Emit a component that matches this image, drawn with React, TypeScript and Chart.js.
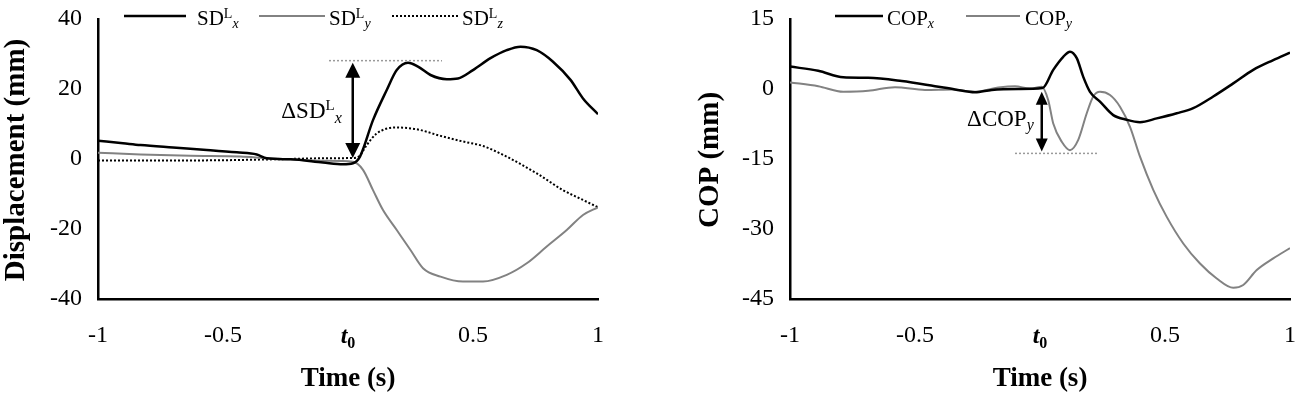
import React, { useEffect, useRef } from 'react';
import { Chart, registerables } from 'chart.js';

Chart.register(...registerables);

const FONT = "'Liberation Serif', 'Times New Roman', Times, serif";

// ---- axes ----
const timeTicks = [-1, -0.5, 0, 0.5, 1];
const timeTickLabels = ['-1', '-0.5', 't0', '0.5', '1'];
const dispTicks = [-40, -20, 0, 20, 40];
const copTicks = [-45, -30, -15, 0, 15];

// ---- left panel: SD^L (mm) ----
const sdxT = [-1, -0.9, -0.83, -0.7, -0.565, -0.445, -0.365, -0.325, -0.23, -0.1, -0.02, 0.02, 0.048, 0.1, 0.155, 0.195, 0.24, 0.28, 0.33, 0.395, 0.44, 0.5, 0.57, 0.635, 0.69, 0.755, 0.82, 0.89, 0.94, 1];
const sdxV = [5.2, 4.5, 4.0, 3.3, 2.6, 1.9, 1.3, 0.2, -0.1, -1.0, -1.5, -1.2, 0.7, 11.1, 19.7, 25.4, 27.5, 26.4, 24.0, 22.8, 23.0, 25.4, 28.8, 31.1, 32.1, 31.1, 27.8, 22.6, 17.3, 12.8];
const sdyT = [-1, -0.83, -0.63, -0.43, -0.325, -0.23, -0.1, 0.02, 0.06, 0.1, 0.14, 0.195, 0.25, 0.3, 0.37, 0.46, 0.54, 0.635, 0.715, 0.795, 0.875, 0.94, 1];
const sdyV = [1.8, 1.3, 0.9, 0.7, 0.2, -0.1, -0.5, -0.8, -3.1, -8.9, -14.6, -20.3, -26.0, -31.2, -33.6, -35.0, -35.0, -33.1, -29.8, -25.0, -20.3, -16.0, -13.8];
const sdzT = [-1, -0.6, -0.3, -0.1, 0.02, 0.045, 0.075, 0.115, 0.19, 0.275, 0.37, 0.46, 0.54, 0.62, 0.755, 0.86, 0.94, 1];
const sdzV = [-0.4, -0.4, -0.1, 0.2, 0.3, 0.8, 4.0, 7.3, 9.0, 8.5, 6.6, 5.0, 3.7, 1.2, -4.1, -8.9, -11.7, -13.8];

// ---- right panel: COP (mm) ----
const copxT = [-1, -0.887, -0.787, -0.687, -0.553, -0.42, -0.34, -0.26, -0.193, -0.087, 0.01, 0.053, 0.093, 0.12, 0.147, 0.173, 0.2, 0.24, 0.293, 0.347, 0.4, 0.467, 0.547, 0.613, 0.693, 0.773, 0.853, 0.933, 1];
const copxV = [4.8, 3.9, 2.5, 2.4, 1.7, 0.6, -0.1, -0.7, -0.2, 0.0, 0.2, 4.1, 6.9, 8.0, 6.6, 2.6, -0.6, -2.7, -5.6, -6.6, -7.1, -6.3, -5.2, -4.1, -1.6, 1.2, 4.1, 6.2, 7.8];
const copyT = [-1, -0.887, -0.787, -0.687, -0.58, -0.46, -0.35, -0.26, -0.167, -0.1, -0.04, 0.007, 0.033, 0.053, 0.087, 0.12, 0.153, 0.187, 0.213, 0.24, 0.28, 0.32, 0.36, 0.4, 0.453, 0.507, 0.573, 0.64, 0.707, 0.773, 0.813, 0.867, 0.933, 1];
const copyV = [1.4, 0.6, -0.6, -0.4, 0.4, -0.2, -0.1, -0.6, 0.3, 0.6, 0.1, 0.5, -2.4, -7.4, -11.3, -13.1, -10.9, -5.2, -1.6, -0.6, -1.3, -3.8, -8.1, -14.5, -21.6, -27.4, -33.1, -37.4, -40.6, -42.6, -42.0, -38.8, -36.3, -34.1];

// ---- annotations (data units) ----
const sdxRefLine = { from: -0.076, to: 0.376, value: 28.1 };
const sdxArrow = { t: 0.019, from: 0.3, to: 27.5, labelValue: 11.8 };
const copyRefLine = { from: -0.1, to: 0.228, value: -13.8 };
const copyArrow = { t: 0.007, from: -0.6, to: -13.4, labelValue: -8.0 };

const GRAY = '#828282';

type Seg = { text: string; size: number; style?: string; weight?: string; dy?: number };

function drawRich(ctx: CanvasRenderingContext2D, x: number, y: number, segs: Seg[], align: string) {
  const fonts = segs.map(s => `${s.style || 'normal'} ${s.weight || 'normal'} ${s.size}px ${FONT}`);
  let total = 0;
  segs.forEach((s, i) => { ctx.font = fonts[i]; total += ctx.measureText(s.text).width; });
  let cx = align === 'right' ? x - total : align === 'center' ? x - total / 2 : x;
  ctx.textAlign = 'left';
  ctx.textBaseline = 'alphabetic';
  segs.forEach((s, i) => {
    ctx.font = fonts[i];
    ctx.fillText(s.text, cx, y + (s.dy || 0));
    cx += ctx.measureText(s.text).width;
  });
}

function drawArrow(ctx: CanvasRenderingContext2D, x: number, yTop: number, yBot: number, headW: number, headL: number, lw: number) {
  ctx.strokeStyle = '#000';
  ctx.fillStyle = '#000';
  ctx.lineWidth = lw;
  ctx.setLineDash([]);
  ctx.beginPath();
  ctx.moveTo(x, yTop + headL - 1);
  ctx.lineTo(x, yBot - headL + 1);
  ctx.stroke();
  ctx.beginPath();
  ctx.moveTo(x, yTop);
  ctx.lineTo(x - headW / 2, yTop + headL);
  ctx.lineTo(x + headW / 2, yTop + headL);
  ctx.closePath();
  ctx.fill();
  ctx.beginPath();
  ctx.moveTo(x, yBot);
  ctx.lineTo(x - headW / 2, yBot - headL);
  ctx.lineTo(x + headW / 2, yBot - headL);
  ctx.closePath();
  ctx.fill();
}

type LegendItem = { x1: number; x2: number; color: string; dash: number[]; width: number; tx: number; segs: Seg[] };

type PanelCfg = {
  width: number;
  yAxisWidth: number;
  rightPad: number;
  ticks: number[];
  yTitle: string;
  yTitleX: number;
  datasets: any[];
  legend: LegendItem[];
  refLine: { from: number; to: number; value: number };
  arrow: { t: number; from: number; to: number; labelValue: number };
  arrowHead: [number, number];
  label: Seg[];
  labelGap: number;
};

function pts(t: number[], v: number[]) {
  return t.map((x, i) => ({ x, y: v[i] }));
}

function makeChart(canvas: HTMLCanvasElement, cfg: PanelCfg) {
  const overlay = {
    id: 'overlay',
    afterDraw(chart: any) {
      const ctx: CanvasRenderingContext2D = chart.ctx;
      const xs = chart.scales.x;
      const ys = chart.scales.y;
      const area = chart.chartArea;
      ctx.save();
      ctx.fillStyle = '#000';
      // legend
      cfg.legend.forEach(item => {
        ctx.beginPath();
        ctx.setLineDash(item.dash);
        ctx.strokeStyle = item.color;
        ctx.lineWidth = item.width;
        ctx.moveTo(item.x1, 16);
        ctx.lineTo(item.x2, 16);
        ctx.stroke();
        ctx.setLineDash([]);
        ctx.fillStyle = '#000';
        drawRich(ctx, item.tx, 25, item.segs, 'left');
      });
      // reference dashed line
      ctx.beginPath();
      ctx.setLineDash([2, 2]);
      ctx.strokeStyle = '#9a9a9a';
      ctx.lineWidth = 1.5;
      const ry = ys.getPixelForValue(cfg.refLine.value);
      ctx.moveTo(xs.getPixelForValue(cfg.refLine.from), ry);
      ctx.lineTo(xs.getPixelForValue(cfg.refLine.to), ry);
      ctx.stroke();
      ctx.setLineDash([]);
      // arrow
      const ax = xs.getPixelForValue(cfg.arrow.t);
      const y1 = ys.getPixelForValue(cfg.arrow.from);
      const y2 = ys.getPixelForValue(cfg.arrow.to);
      drawArrow(ctx, ax, Math.min(y1, y2), Math.max(y1, y2), cfg.arrowHead[0], cfg.arrowHead[1], 2.5);
      ctx.fillStyle = '#000';
      drawRich(ctx, ax - cfg.labelGap, ys.getPixelForValue(cfg.arrow.labelValue), cfg.label, 'right');
      // t0 tick label
      drawRich(ctx, xs.getPixelForValue(0), 343, [
        { text: 't', size: 24, style: 'italic', weight: 'bold' },
        { text: '0', size: 16, weight: 'bold', dy: 5 },
      ], 'center');
      // x title
      ctx.font = `bold 27px ${FONT}`;
      ctx.textAlign = 'center';
      ctx.textBaseline = 'alphabetic';
      ctx.fillText('Time (s)', (area.left + area.right) / 2, 386);
      // y title
      ctx.save();
      ctx.translate(cfg.yTitleX, (area.top + area.bottom) / 2 + 1);
      ctx.rotate(-Math.PI / 2);
      ctx.font = `bold 29px ${FONT}`;
      ctx.textAlign = 'center';
      ctx.textBaseline = 'alphabetic';
      ctx.fillText(cfg.yTitle, 0, 0);
      ctx.restore();
      ctx.restore();
    },
  };

  const tickFont = { size: 24, family: FONT };
  return new Chart(canvas, {
    type: 'line',
    data: { datasets: cfg.datasets },
    options: {
      animation: false,
      responsive: false,
      events: [],
      layout: { padding: { top: 19, right: cfg.rightPad, left: 0, bottom: 0 } },
      plugins: { legend: { display: false }, tooltip: { enabled: false }, title: { display: false } },
      elements: { point: { radius: 0 }, line: { cubicInterpolationMode: 'monotone' } },
      scales: {
        x: {
          type: 'linear',
          min: timeTicks[0],
          max: timeTicks[timeTicks.length - 1],
          afterBuildTicks: (s: any) => { s.ticks = timeTicks.map(v => ({ value: v })); },
          ticks: {
            padding: 22,
            color: '#000',
            font: tickFont,
            maxRotation: 0,
            autoSkip: false,
            callback: (v: any) => {
              const i = timeTicks.indexOf(Number(v));
              const lab = i >= 0 ? timeTickLabels[i] : '';
              return lab === 't0' ? '' : lab;
            },
          },
          grid: { display: false, drawTicks: false },
          border: { display: true, color: '#000', width: 2.5 },
          afterFit: (s: any) => { s.height = 100; s.paddingLeft = 0; s.paddingRight = 0; },
        },
        y: {
          type: 'linear',
          min: cfg.ticks[0],
          max: cfg.ticks[cfg.ticks.length - 1],
          afterBuildTicks: (s: any) => { s.ticks = cfg.ticks.map(v => ({ value: v })); },
          ticks: { padding: 16, color: '#000', font: tickFont, callback: (v: any) => String(v) },
          grid: { display: false, drawTicks: false },
          border: { display: true, color: '#000', width: 2.5 },
          afterFit: (s: any) => { s.width = cfg.yAxisWidth; s.paddingTop = 0; s.paddingBottom = 0; },
        },
      },
    },
    plugins: [overlay],
  } as any);
}

const leftCfg: PanelCfg = {
  width: 650,
  yAxisWidth: 98,
  rightPad: 52,
  ticks: dispTicks,
  yTitle: 'Displacement (mm)',
  yTitleX: 24,
  datasets: [
    { data: pts(sdxT, sdxV), borderColor: '#000', borderWidth: 2.5, pointRadius: 0, fill: false },
    { data: pts(sdyT, sdyV), borderColor: GRAY, borderWidth: 2, pointRadius: 0, fill: false },
    { data: pts(sdzT, sdzV), borderColor: '#000', borderWidth: 2, borderDash: [2, 2], pointRadius: 0, fill: false },
  ],
  legend: [
    { x1: 124, x2: 186, color: '#000', dash: [], width: 2.5, tx: 197, segs: [{ text: 'SD', size: 21 }, { text: 'L', size: 14, dy: -7 }, { text: 'x', size: 14, style: 'italic', dy: 3 }] },
    { x1: 259, x2: 325, color: GRAY, dash: [], width: 2, tx: 329, segs: [{ text: 'SD', size: 21 }, { text: 'L', size: 14, dy: -7 }, { text: 'y', size: 14, style: 'italic', dy: 3 }] },
    { x1: 392, x2: 458, color: '#000', dash: [2, 2], width: 2, tx: 462, segs: [{ text: 'SD', size: 21 }, { text: 'L', size: 14, dy: -7 }, { text: 'z', size: 14, style: 'italic', dy: 3 }] },
  ],
  refLine: sdxRefLine,
  arrow: sdxArrow,
  arrowHead: [15, 15],
  label: [{ text: 'ΔSD', size: 23 }, { text: 'L', size: 15, dy: -8 }, { text: 'x', size: 16, style: 'italic', dy: 5 }],
  labelGap: 11,
};

const rightCfg: PanelCfg = {
  width: 649,
  yAxisWidth: 140,
  rightPad: 9,
  ticks: copTicks,
  yTitle: 'COP (mm)',
  yTitleX: 68,
  datasets: [
    { data: pts(copxT, copxV), borderColor: '#000', borderWidth: 2.5, pointRadius: 0, fill: false },
    { data: pts(copyT, copyV), borderColor: GRAY, borderWidth: 2, pointRadius: 0, fill: false },
  ],
  legend: [
    { x1: 185, x2: 233, color: '#000', dash: [], width: 2.5, tx: 237, segs: [{ text: 'COP', size: 21 }, { text: 'x', size: 14, style: 'italic', dy: 3 }] },
    { x1: 316, x2: 370, color: GRAY, dash: [], width: 2, tx: 375, segs: [{ text: 'COP', size: 21 }, { text: 'y', size: 14, style: 'italic', dy: 3 }] },
  ],
  refLine: copyRefLine,
  arrow: copyArrow,
  arrowHead: [12, 13],
  label: [{ text: 'ΔCOP', size: 23 }, { text: 'y', size: 16, style: 'italic', dy: 4 }],
  labelGap: 8,
};

function Panel({ cfg, left }: { cfg: PanelCfg; left: number }) {
  const ref = useRef<HTMLCanvasElement | null>(null);
  useEffect(() => {
    if (!ref.current) return;
    const chart = makeChart(ref.current, cfg);
    return () => chart.destroy();
  }, [cfg]);
  return (
    <div style={{ position: 'absolute', left, top: 0, width: cfg.width, height: 399 }}>
      <canvas ref={ref} width={cfg.width} height={399} style={{ display: 'block', width: cfg.width, height: 399 }} />
    </div>
  );
}

export default function App() {
  return (
    <div style={{ position: 'absolute', left: 0, top: 0, width: 1299, height: 399, background: '#fff', overflow: 'hidden' }}>
      <Panel cfg={leftCfg} left={0} />
      <Panel cfg={rightCfg} left={650} />
    </div>
  );
}
